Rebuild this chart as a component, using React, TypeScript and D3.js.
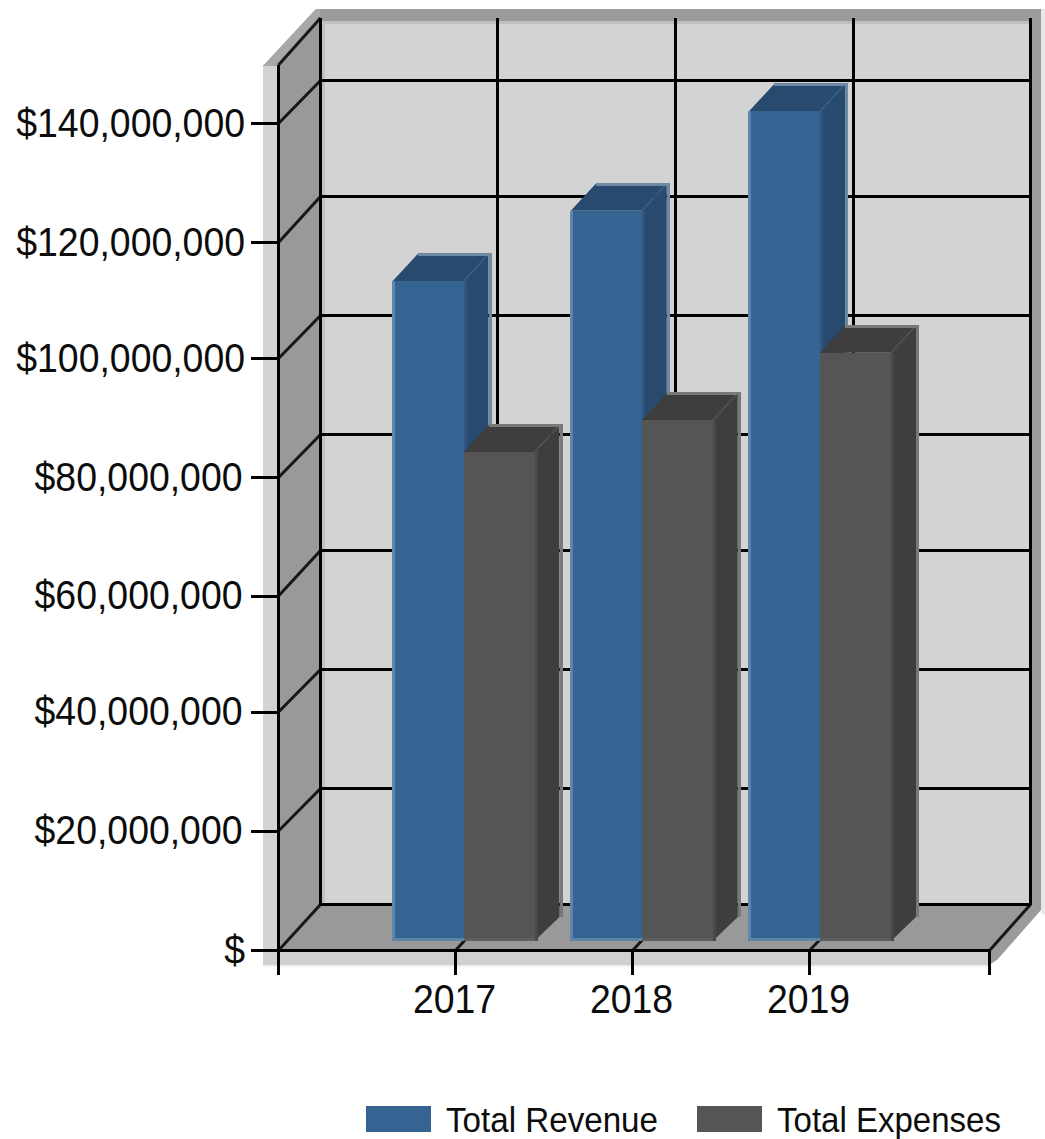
import React from "react";
import * as d3 from "d3";

const years = ["2017", "2018", "2019"];
const totalRevenue = [111500000, 123400000, 140200000];
const totalExpenses = [82600000, 88000000, 99400000];
const valueTicks = [0, 20000000, 40000000, 60000000, 80000000, 100000000, 120000000, 140000000];
const legendNames = ["Total Revenue", "Total Expenses"];

const FRONT_LEFT = 278.5;
const FRONT_RIGHT = 989.5;
const BACK_LEFT = 320.5;
const BACK_RIGHT = 1030.5;
const FRONT_BASE = 950.5;
const BACK_BASE = 904.5;
const FRONT_TOP = 65;
const BACK_TOP = 18;
const BAR_BASE = 941;
const BAR_WIDTH = 71;
const BAR_DX = 25;
const BAR_DY = -27;
const FONT = "'Liberation Sans', Arial, sans-serif";

// The chart snaps each tick to a whole pixel row, so these scales are piecewise.
const frontRows = [FRONT_BASE, 831, 712, 596, 477.5, 358.5, 242.5, 123.5];
const backRows = [BACK_BASE, 788.5, 669.5, 550.5, 434.5, 315.5, 196.5, 80.5];
const yFront = d3.scaleLinear().domain(valueTicks).range(frontRows);
const yBack = d3.scaleLinear().domain(valueTicks).range(backRows);
const yBar = d3.scaleLinear().domain([0, 140000000]).range([BAR_BASE, 112.5]);
const xFront = d3.scalePoint<string>().domain(years).range([455.5, 809.5]);
const xBack = d3.scalePoint<string>().domain(years).range([497.5, 853.5]);
const xBar = d3.scalePoint<string>().domain(years).range([463.5, 820]);
const money = (v: number) => (v === 0 ? "$" : "$" + d3.format(",")(v));

const poly = (pts: number[][]) => pts.map((p) => p.join(",")).join(" ");

type BarProps = {
  x: number;
  top: number;
  front: string;
  shade: string;
  band: string;
  rim: string;
  frontRim: string | null;
  baseRim: string;
};

// One extruded column: side and top faces behind, front face on top, with soft rims.
function Bar({ x, top, front, shade, band, rim, frontRim, baseRim }: BarProps) {
  const r = x + BAR_WIDTH;
  const backY = top + BAR_DY;
  return (
    <g>
      <polygon points={poly([[r, top], [r + BAR_DX, backY], [r + BAR_DX, BAR_BASE + BAR_DY + 3], [r, BAR_BASE]])} fill={shade} />
      <polygon points={poly([[x, top], [x + BAR_DX, backY], [r + BAR_DX, backY], [r, top]])} fill={shade} />
      <line x1={r} y1={top} x2={r + BAR_DX} y2={backY} stroke={front} strokeWidth={3} opacity={0.25} />
      <rect x={x + BAR_DX} y={backY - 1} width={BAR_WIDTH + 3} height={3} fill={rim} shapeRendering="crispEdges" />
      <rect x={r + BAR_DX} y={backY - 1} width={3} height={BAR_BASE + BAR_DY + 4 - backY} fill={rim} shapeRendering="crispEdges" />
      <rect x={x} y={top} width={BAR_WIDTH} height={BAR_BASE - top} fill={front} shapeRendering="crispEdges" />
      <rect x={r} y={top} width={3} height={BAR_BASE - top} fill={band} shapeRendering="crispEdges" />
      <rect x={x} y={BAR_BASE - 3} width={BAR_WIDTH} height={3} fill={baseRim} shapeRendering="crispEdges" />
      {frontRim && <rect x={x - 1} y={top} width={3} height={BAR_BASE - top} fill={frontRim} shapeRendering="crispEdges" />}
    </g>
  );
}

export default function App() {
  const labelStyle = { fontFamily: FONT, fontSize: 37.4, fill: "#0c0c0c" };
  const tallText = (x: number, y: number) => `translate(${x},${y}) scale(1,1.07)`;
  return (
    <svg
      width={1045}
      height={1139}
      viewBox="0 0 1045 1139"
      style={{ position: "absolute", left: 0, top: 0, background: "#fff" }}
    >
      {/* Outer frame around the box */}
      <rect x={1041} y={9} width={4} height={905} fill="#e8e8e8" />
      <rect x={263} y={950} width={727} height={17} fill="#efefef" />
      <rect x={263} y={65} width={16} height={900} fill="#d3d3d3" />
      <rect x={263} y={950} width={727} height={15} fill="#d0d0d0" />
      <polygon points={poly([[263, 66], [316, 9], [1041, 9], [1041, 910], [997, 960], [989, 965], [989, 950], [1030, 904], [320, 18], [278, 66]])} fill="#9b9b9b" />
      <polygon points={poly([[263, 66], [316, 9], [320, 9], [320, 18], [278, 66]])} fill="#a8a8a8" />

      {/* Back wall, left wall and floor */}
      <rect x={BACK_LEFT} y={21} width={BACK_RIGHT - BACK_LEFT} height={BACK_BASE - 21} fill="#d3d3d3" />
      <rect x={BACK_LEFT} y={21} width={BACK_RIGHT - BACK_LEFT} height={3} fill="#c0c0c0" />
      <rect x={322} y={21} width={3} height={BACK_BASE - 21} fill="#c0c0c0" />
      <polygon points={poly([[FRONT_LEFT, FRONT_TOP], [BACK_LEFT, BACK_TOP], [BACK_LEFT, BACK_BASE], [FRONT_LEFT, FRONT_BASE]])} fill="#999999" />
      <polygon points={poly([[FRONT_LEFT, FRONT_BASE], [FRONT_RIGHT, FRONT_BASE], [BACK_RIGHT, BACK_BASE], [BACK_LEFT, BACK_BASE]])} fill="#999999" />

      {/* Grid lines */}
      <g stroke="#000" strokeWidth={3} fill="none">
        {valueTicks.map((v) => (
          <g key={v}>
            <line x1={BACK_LEFT} x2={BACK_RIGHT} y1={yBack(v)} y2={yBack(v)} shapeRendering="crispEdges" />
            <line x1={FRONT_LEFT} y1={yFront(v)} x2={BACK_LEFT} y2={yBack(v)} opacity={0.85} />
            <line x1={251} x2={FRONT_LEFT} y1={yFront(v)} y2={yFront(v)} shapeRendering="crispEdges" />
          </g>
        ))}
        {years.map((y) => (
          <g key={y}>
            <line x1={xBack(y)} x2={xBack(y)} y1={BACK_TOP} y2={BACK_BASE} shapeRendering="crispEdges" />
            <line x1={xFront(y)} y1={FRONT_BASE} x2={xBack(y)} y2={BACK_BASE} opacity={0.85} />
            <line x1={xFront(y)} x2={xFront(y)} y1={FRONT_BASE} y2={975} shapeRendering="crispEdges" />
          </g>
        ))}
        <line x1={BACK_LEFT} x2={BACK_LEFT} y1={BACK_TOP} y2={BACK_BASE} shapeRendering="crispEdges" />
        <line x1={BACK_RIGHT} x2={BACK_RIGHT} y1={BACK_TOP} y2={BACK_BASE} shapeRendering="crispEdges" />
        <line x1={FRONT_LEFT} y1={FRONT_TOP} x2={BACK_LEFT} y2={BACK_TOP} opacity={0.85} />
        <line x1={FRONT_RIGHT} y1={FRONT_BASE} x2={BACK_RIGHT} y2={BACK_BASE} opacity={0.85} />
      </g>

      {/* Columns, drawn left to right within each year */}
      {years.map((y, i) => {
        const centre = xBar(y) as number;
        return (
          <g key={y}>
            <Bar
              x={centre - BAR_WIDTH}
              top={yBar(totalRevenue[i])}
              front="#356493"
              shade="#284a6e"
              band="#2f5580"
              rim="#6f88a3"
              frontRim="#5f86ab"
              baseRim="#5f83a5"
            />
            <Bar
              x={centre}
              top={yBar(totalExpenses[i])}
              front="#555555"
              shade="#3e3e3e"
              band="#494949"
              rim="#787878"
              frontRim={null}
              baseRim="#5e5e5e"
            />
          </g>
        );
      })}

      {/* Front edges of the box */}
      <g stroke="#000" strokeWidth={3} shapeRendering="crispEdges">
        <line x1={FRONT_LEFT} x2={FRONT_LEFT} y1={FRONT_TOP} y2={975} />
        <line x1={FRONT_RIGHT} x2={FRONT_RIGHT} y1={FRONT_BASE} y2={975} />
        <line x1={FRONT_LEFT} x2={FRONT_RIGHT} y1={FRONT_BASE} y2={FRONT_BASE} />
      </g>

      {/* Axis labels */}
      {valueTicks.map((v) => (
        <text
          key={v}
          transform={tallText(v >= 100000000 || v === 0 ? 245 : 242.5, yFront(v) + 13.4)}
          textAnchor="end"
          style={labelStyle}
        >
          {money(v)}
        </text>
      ))}
      {years.map((y) => (
        <text key={y} transform={tallText((xFront(y) as number) - 1, 1012.5)} textAnchor="middle" style={labelStyle}>
          {y}
        </text>
      ))}

      {/* Legend */}
      <rect x={366} y={1106} width={65} height={26} fill="#356493" />
      <text x={446} y={1132} textLength={212} lengthAdjust="spacingAndGlyphs" style={{ ...labelStyle, fontSize: 35 }}>
        {legendNames[0]}
      </text>
      <rect x={697} y={1106} width={65} height={26} fill="#555555" />
      <text x={777} y={1132} textLength={224} lengthAdjust="spacingAndGlyphs" style={{ ...labelStyle, fontSize: 35 }}>
        {legendNames[1]}
      </text>
    </svg>
  );
}
